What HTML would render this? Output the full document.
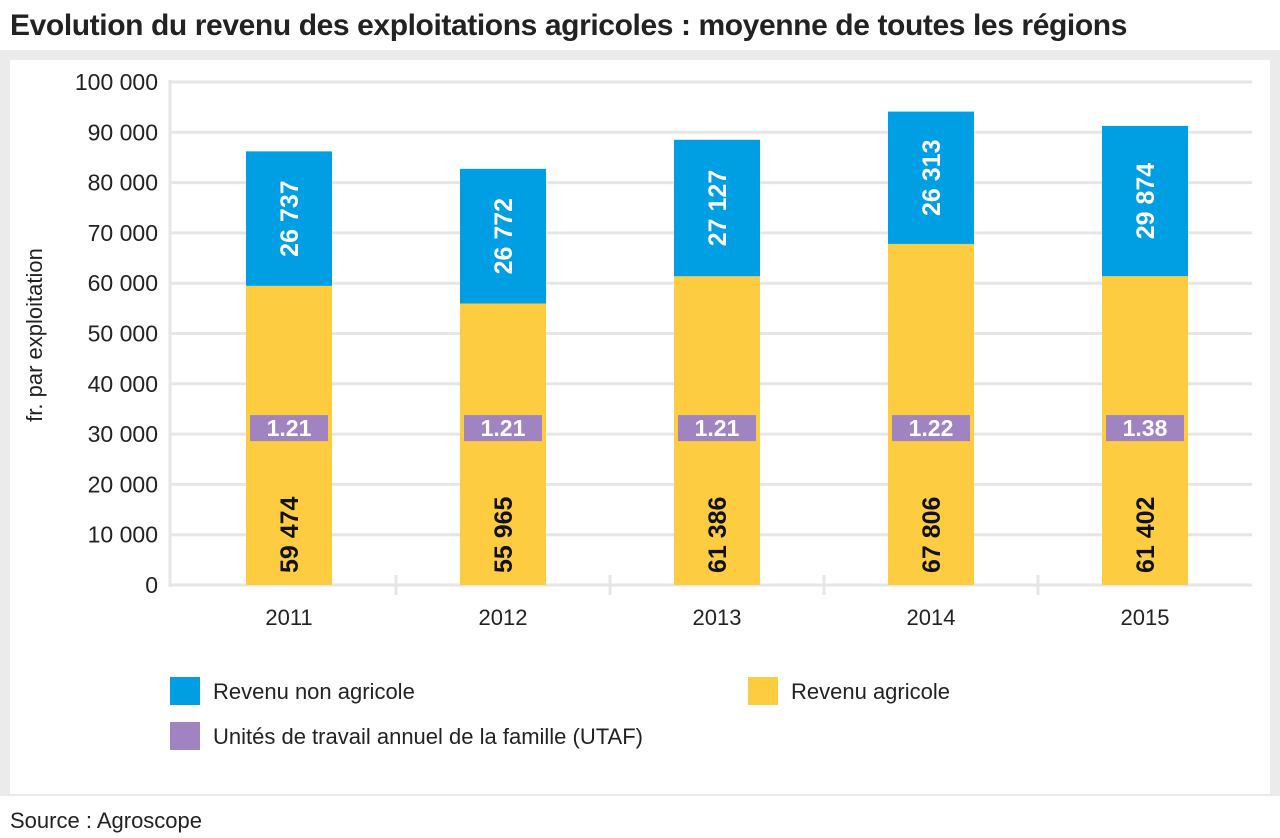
<!DOCTYPE html>
<html><head><meta charset="utf-8">
<style>
body{margin:0;width:1280px;height:838px;background:#fff;font-family:"Liberation Sans",sans-serif;position:relative;overflow:hidden}
#title{position:absolute;left:10px;top:9px;font-family:"Liberation Sans Narrow","Liberation Sans",sans-serif;font-weight:bold;font-size:30px;color:#222;letter-spacing:-0.4px}
#frame{position:absolute;left:0;top:50px;width:1280px;height:746px;background:#ebebeb}
#panel{position:absolute;left:10px;top:60px;width:1260px;height:734px;background:#fff}
#src{position:absolute;left:10px;top:808px;font-size:22px;color:#222}
svg{position:absolute;left:0;top:0}
</style></head><body>
<div id="title">Evolution du revenu des exploitations agricoles : moyenne de toutes les régions</div>
<div id="frame"></div>
<div id="panel"></div>
<div id="src">Source : Agroscope</div>
<svg id="chart" width="1280" height="838"></svg>
<script>
const years=["2011","2012","2013","2014","2015"];
const agri=[59474,55965,61386,67806,61402];
const nonAgri=[26737,26772,27127,26313,29874];
const utaf=["1.21","1.21","1.21","1.22","1.38"];
const yTicks=[0,10000,20000,30000,40000,50000,60000,70000,80000,90000,100000];
const NS="http://www.w3.org/2000/svg";
const svg=document.getElementById('chart');
const y0=585,yTop=82,x0=182,cw=214,bw=86;
const Y=v=>y0-(v/100000)*(y0-yTop);
const X=i=>x0+cw*i+cw/2;
const fmt=v=>String(v).replace(/\B(?=(\d{3})+(?!\d))/g," ");
function mk(t,a,txt){const e=document.createElementNS(NS,t);for(const k in a)e.setAttribute(k,a[k]);if(txt!=null)e.textContent=txt;svg.appendChild(e);return e;}
yTicks.forEach(v=>{
 const g=mk('line',{x1:170,x2:1252,y1:Y(v),y2:Y(v),stroke:'#e6e6e6','stroke-width':3});
 
 
 const t=mk('text',{x:158,y:Y(v)+8,'text-anchor':'end','font-size':23,fill:'#222'},fmt(v));
 
 
});
const ax=mk('line',{x1:170,x2:170,y1:yTop-2,y2:y0+2,stroke:'#e6e6e6','stroke-width':3});


for(let i=1;i<years.length;i++){
 const tk=mk('line',{x1:x0+cw*i,x2:x0+cw*i,y1:y0-10,y2:y0+10,stroke:'#e6e6e6','stroke-width':3});
 
 
}
const yt=mk('text',{x:0,y:0,'font-size':22,fill:'#222','text-anchor':'middle',transform:'translate(42,335) rotate(-90)'},'fr. par exploitation');


years.forEach((yr,i)=>{
 const cx=X(i);
 const a=mk('rect',{x:cx-bw/2,y:Y(agri[i]),width:bw,height:y0-Y(agri[i]),fill:'#fdcc41'});
 
 
 const n=mk('rect',{x:cx-bw/2,y:Y(agri[i]+nonAgri[i]),width:bw,height:Y(agri[i])-Y(agri[i]+nonAgri[i]),fill:'#009fe3'});
 
 
 const u=mk('rect',{x:cx-39,y:Y(30000)-19,width:78,height:26,fill:'#a084c2'});
 
 
 const ut=mk('text',{x:cx,y:Y(30000)+2,'text-anchor':'middle','font-size':23,'font-weight':'bold',fill:'#fff'},utaf[i]);
 
 
 const al=mk('text',{x:0,y:0,'text-anchor':'start','font-size':25,'font-weight':'bold',fill:'#111',transform:`translate(${cx+9},${y0-12}) rotate(-90)`},fmt(agri[i]));
 
 
 const mid=(Y(agri[i])+Y(agri[i]+nonAgri[i]))/2;
 const nl=mk('text',{x:0,y:0,'text-anchor':'middle','font-size':25,'font-weight':'bold',fill:'#fff',transform:`translate(${cx+9},${mid}) rotate(-90)`},fmt(nonAgri[i]));
 
 
 const xl=mk('text',{x:cx,y:625,'text-anchor':'middle','font-size':22,fill:'#222'},yr);
 
 
});
const leg=[["#009fe3",170,677,"Revenu non agricole"],["#fdcc41",748,677,"Revenu agricole"],["#a084c2",170,722,"Unités de travail annuel de la famille (UTAF)"]];
leg.forEach(l=>{
 const r=mk('rect',{x:l[1],y:l[2],width:30,height:28,fill:l[0]});
 
 
 const t=mk('text',{x:l[1]+43,y:l[2]+22,'font-size':22,fill:'#222'},l[3]);
 
 
});
</script>
</body></html>
